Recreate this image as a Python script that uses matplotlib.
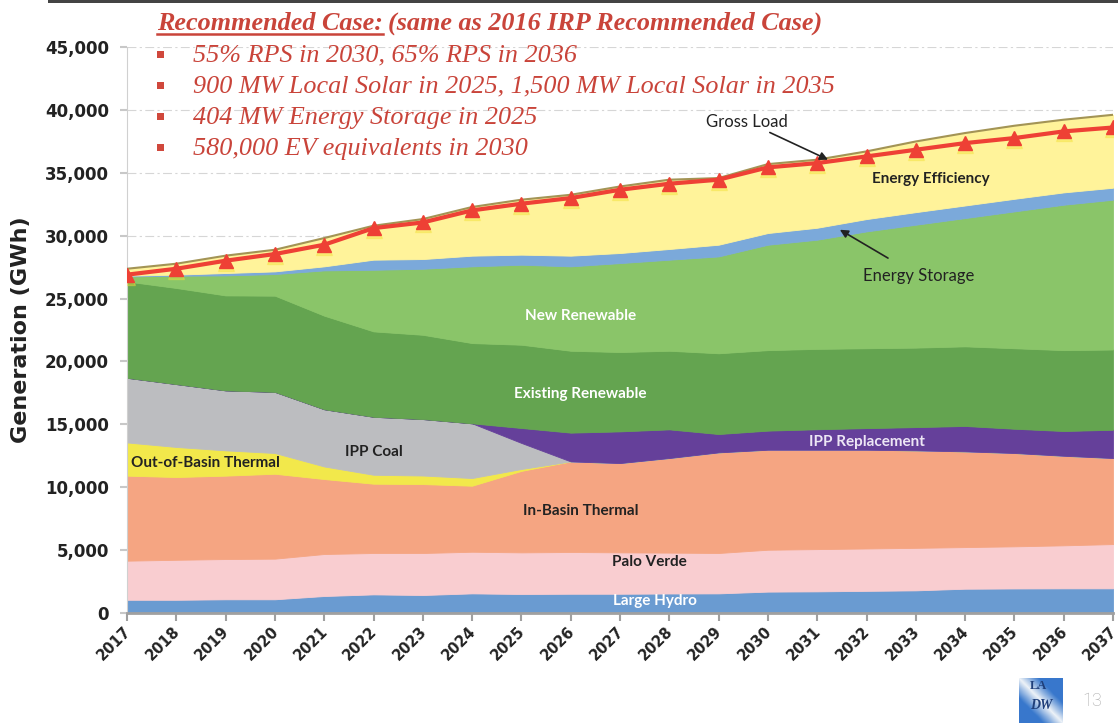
import numpy as np
import matplotlib.pyplot as plt
import matplotlib.transforms as mtransforms
from matplotlib.lines import Line2D
from matplotlib.patches import Rectangle

years = list(range(2017, 2038))

# generation by resource (GWh), bottom to top of the stack
large_hydro = [1050, 1050, 1090, 1090, 1350, 1480, 1430, 1560, 1510, 1530, 1530,
               1550, 1560, 1700, 1720, 1760, 1800, 1930, 1950, 1960, 1960]
palo_verde = [3110, 3180, 3200, 3230, 3340, 3290, 3340, 3310, 3310, 3320, 3290,
              3250, 3210, 3330, 3360, 3370, 3380, 3310, 3350, 3420, 3520]
in_basin = [6760, 6580, 6630, 6750, 5960, 5510, 5480, 5250, 6480, 7200, 7100,
            7520, 8000, 7950, 7900, 7850, 7750, 7610, 7420, 7120, 6840]
out_of_basin = [2640, 2390, 2010, 1650, 1000, 710, 680, 610, 150, 0, 0,
                0, 0, 0, 0, 0, 0, 0, 0, 0, 0]
ipp_coal = [5140, 5000, 4770, 4860, 4550, 4610, 4490, 4350, 2070, 0, 0,
            0, 0, 0, 0, 0, 0, 0, 0, 0, 0]
ipp_replacement = [0, 0, 0, 0, 0, 0, 0, 0, 1190, 2290, 2520,
                   2280, 1460, 1520, 1630, 1720, 1850, 2020, 1930, 1970, 2250]
existing_renewable = [7660, 7640, 7550, 7650, 7440, 6790, 6700, 6380, 6620, 6510, 6310,
                      6250, 6420, 6400, 6390, 6350, 6320, 6330, 6400, 6430, 6380]
new_renewable = [400, 980, 1590, 1720, 3600, 4900, 5250, 6100, 6360, 6710, 7070,
                 7240, 7700, 8380, 8680, 9290, 9770, 10200, 10880, 11560, 11910]
energy_storage = [60, 80, 190, 210, 320, 800, 770, 850, 800, 850, 800,
                  850, 930, 930, 950, 980, 1000, 1000, 1000, 980, 950]
energy_efficiency = [550, 870, 1380, 1720, 2250, 2700, 3180, 3870, 4370, 4840, 5290,
                     5510, 5300, 5480, 5410, 5380, 5620, 5760, 5810, 5780, 5800]

# retail load after efficiency (red line)
net_load = [26900, 27370, 28010, 28540, 29280, 30600, 31050, 32010, 32540, 32990, 33650,
            34130, 34450, 35430, 35770, 36300, 36830, 37360, 37760, 38290, 38600]

layers = [
    (large_hydro, '#6A9BD1'),
    (palo_verde, '#F9CDD0'),
    (in_basin, '#F5A582'),
    (out_of_basin, '#F2E84B'),
    (ipp_coal, '#BCBDC0'),
    (ipp_replacement, '#65409A'),
    (existing_renewable, '#64A450'),
    (new_renewable, '#8AC569'),
    (energy_storage, '#7BA9DA'),
    (energy_efficiency, '#FFF39A'),
]

W, H = 1118, 723
fig = plt.figure(figsize=(W / 100, H / 100), dpi=100)
ax = fig.add_axes([127 / W, 1 - 613 / H, 986 / W, 566 / H])

base = np.zeros(len(years))
for vals, col in layers:
    top = base + np.array(vals)
    ax.fill_between(years, base, top, facecolor=col, edgecolor=col, lw=0.6, zorder=2)
    base = top
gross_load = base

ax.plot(years, gross_load, color='#A39455', lw=1.5, zorder=3)
# soft yellow glow under the triangles
glow = mtransforms.offset_copy(ax.transData, fig=fig, x=0, y=-2, units='dots')
ax.plot(years, net_load, lw=0, marker='^', ms=12, color='#F3E03B', alpha=0.4,
        zorder=3, transform=glow)
ax.plot(years, net_load, color='#EE4035', lw=3, marker='^', ms=10,
        markeredgecolor='#EE4035', zorder=4)

ax.set_xlim(2017, 2037)
ax.set_ylim(0, 45000)
ax.set_xticks(years)
ax.set_xticklabels([])
# year labels, rotated so their upper right corner sits under the tick
lbl_tr = mtransforms.offset_copy(ax.get_xaxis_transform(), fig=fig, x=-4, y=-11, units='dots')
for y in years:
    ax.text(y, 0, str(y), transform=lbl_tr, rotation=45, rotation_mode='anchor',
            ha='right', va='top', fontsize=10.5, fontweight='bold', color='#222222',
            clip_on=False)
yt = list(range(0, 45001, 5000))
ax.set_yticks(yt)
ax.set_yticklabels([f'{v:,}' for v in yt], fontsize=12, fontweight='bold', color='#222222')
ax.tick_params(axis='x', length=6, width=1.5, color='#A0A0A0')
ax.tick_params(axis='y', length=5, width=1.5, color='#C8C8C8', pad=8)
ax.set_axisbelow(True)
ax.yaxis.grid(True, color='#D6D6D6', linestyle=(0, (8, 3, 2, 3)), lw=0.8)
for s in ('top', 'right'):
    ax.spines[s].set_visible(False)
ax.spines['left'].set_color('#D0D0D0')
ax.spines['bottom'].set_color('#A0A0A0')
ax.spines['bottom'].set_linewidth(2)
ax.set_ylabel('Generation (GWh)', fontsize=16, fontweight='bold', color='#222222', labelpad=10)

# stack labels
lab = dict(family='Lato', fontweight='bold', fontsize=11, ha='center', va='center', zorder=5)
ax.text(2026.2, 23600, 'New Renewable', color='white', **lab)
ax.text(2026.2, 17450, 'Existing Renewable', color='white', **lab)
ax.text(2032.0, 13570, 'IPP Replacement', color='#EDE6F5', **lab)
ax.text(2022.0, 12800, 'IPP Coal', color='#222222', **lab)
ax.text(2018.6, 11900, 'Out-of-Basin Thermal', color='#222222', **lab)
ax.text(2026.2, 8100, 'In-Basin Thermal', color='#222222', **lab)
ax.text(2027.6, 4050, 'Palo Verde', color='#222222', **lab)
ax.text(2027.7, 950, 'Large Hydro', color='white', **lab)
ax.text(2033.3, 34500, 'Energy Efficiency', color='#222222', **lab)

ax.annotate('Gross Load', xy=(2031.22, 36040), xytext=(2030.4, 39060),
            family='Lato', fontsize=12, color='#222222', ha='right', va='center', zorder=6,
            arrowprops=dict(arrowstyle='-|>', color='#222222', lw=1.2, mutation_scale=12,
                            shrinkA=0, shrinkB=0))
ax.annotate('Energy Storage', xy=(2031.46, 30470), xytext=(2033.05, 26800),
            family='Lato', fontsize=12, color='#222222', ha='center', va='center', zorder=6,
            arrowprops=dict(arrowstyle='-|>', color='#222222', lw=1.2, mutation_scale=12,
                            shrinkA=10, shrinkB=0))

# header bar and case description
fig.add_artist(Rectangle((48 / W, 1 - 3 / H), 1 - 48 / W, 3 / H, transform=fig.transFigure,
                         color='#444444', lw=0))
red = '#C9443A'
t1 = fig.text(157 / W, 1 - 29.5 / H, 'Recommended Case:', family='Liberation Serif',
              fontsize=18.8, fontweight='bold', style='italic', color=red, va='baseline')
fig.canvas.draw()
bb = t1.get_window_extent()
fig.text((bb.x1 + 5) / W, 1 - 29.5 / H, '(same as 2016 IRP Recommended Case)',
         family='Liberation Serif', fontsize=18.8, fontweight='bold', style='italic',
         color=red, va='baseline')
fig.add_artist(Line2D([bb.x0 / W, bb.x1 / W], [1 - 33.5 / H, 1 - 33.5 / H],
                      transform=fig.transFigure, color=red, lw=1.8))

bullets = ['55% RPS in 2030, 65% RPS in 2036',
           '900 MW Local Solar in 2025, 1,500 MW Local Solar in 2035',
           '404 MW Energy Storage in 2025',
           '580,000 EV equivalents in 2030']
for i, b in enumerate(bullets):
    yb = 61.5 + 31.2 * i
    fig.add_artist(Rectangle((157 / W, 1 - (yb - 4) / H), 7 / W, 7 / H,
                             transform=fig.transFigure, color='#D0483C', lw=0))
    fig.text(193 / W, 1 - yb / H, b, family='Liberation Serif', fontsize=18.8,
             style='italic', color=red, va='baseline')

# logo and page number
lax = fig.add_axes([1019 / W, 0, 44 / W, 45 / H])
gx, gy = np.meshgrid(np.linspace(0, 1, 40), np.linspace(0, 1, 40))
shade = np.clip(1 - np.abs(gx - gy) * 2.2, 0, 1)
img = np.zeros((40, 40, 3))
blue = np.array([0.22, 0.47, 0.80])
light = np.array([0.93, 0.95, 0.97])
for k in range(3):
    img[:, :, k] = blue[k] * (1 - shade) + light[k] * shade
lax.imshow(img, extent=(0, 1, 0, 1), aspect='auto')
lax.text(0.45, 0.82, 'LA', family='Liberation Serif', fontweight='bold', fontsize=9,
         color='#1F3F7A', ha='center', va='center')
lax.text(0.5, 0.38, 'DW', family='Liberation Serif', fontweight='bold', fontsize=10,
         color='#1F3F7A', ha='center', va='center', style='italic')
lax.set_xlim(0, 1)
lax.set_ylim(0, 1)
lax.axis('off')
fig.text(1092 / W, 1 - 701 / H, '13', family='Roboto', fontsize=13, color='#A8A8A8',
         ha='center', va='center', fontweight='light')

fig.savefig('out.png', dpi=100)
